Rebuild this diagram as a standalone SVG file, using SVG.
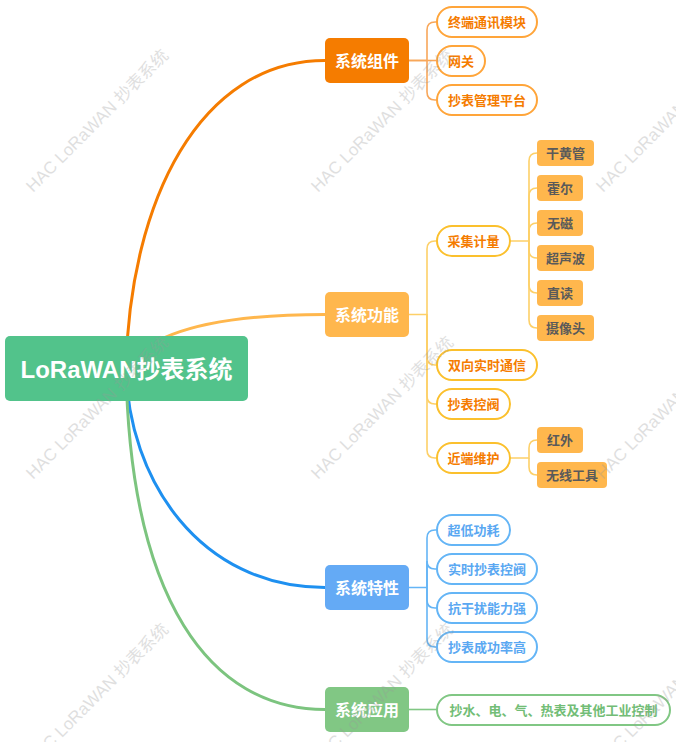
<svg xmlns="http://www.w3.org/2000/svg" width="676" height="742" viewBox="0 0 676 742">
<style>
text{font-family:"Liberation Sans","Noto Sans CJK SC",sans-serif;font-weight:bold;dominant-baseline:central;text-anchor:middle}
.main{fill:none;stroke-width:3;stroke-linecap:round}
.sub{fill:none;stroke-width:1.6}
.pill{fill:#fff;stroke-width:2}
.leaf{fill:#ffb74d}
.leaf text{fill:#5a5a5a;font-size:13px}
.brt{fill:#fff;font-size:16px}
.ct{font-size:13px}
.wm{font-family:"Liberation Sans","Noto Sans CJK SC",sans-serif;font-weight:normal;font-size:17px;fill:#999;opacity:0.3;text-anchor:start;dominant-baseline:auto}
</style>
<rect width="676" height="742" fill="#fff"/>
<g id="connectors">
  <path class="main" stroke="#f57c00" d="M126,368 C130,200 200,60.5 325,60.5"/>
  <path class="main" stroke="#ffb74d" d="M126,368 Q160,314.5 325,314.5"/>
  <path class="main" stroke="#1e90f0" d="M126,368 C128,480 200,587.5 325,587.5"/>
  <path class="main" stroke="#7cc47f" d="M126,368 C130,600 210,709.5 325,709.5"/>
  <g stroke="#f8a75a" class="sub">
    <path d="M409,60.5 H427 V30 Q427,22 435,22 H437"/>
    <path d="M409,60.5 H437"/>
    <path d="M427,60.5 V92 Q427,100 435,100 H437"/>
  </g>
  <g stroke="#fdd068" class="sub">
    <path d="M409,314.5 H427 V249 Q427,241 435,241 H437"/>
    <path d="M427,314.5 V357 Q427,365 435,365 H437"/>
    <path d="M427,314.5 V396 Q427,404 435,404 H437"/>
    <path d="M427,314.5 V450 Q427,458 435,458 H437"/>
    <path d="M510,241 H529 V161 Q529,153 537,153"/>
    <path d="M529,241 V196 Q529,188 537,188"/>
    <path d="M529,241 V231 Q529,223 537,223"/>
    <path d="M529,241 V250 Q529,258 537,258"/>
    <path d="M529,241 V285 Q529,293 537,293"/>
    <path d="M529,241 V320 Q529,328 537,328"/>
    <path d="M510,458 H529 V448 Q529,440 537,440"/>
    <path d="M529,458 V467 Q529,475 537,475"/>
  </g>
  <g stroke="#64b5f6" class="sub">
    <path d="M409,587.5 H427 V538 Q427,530 435,530 H437"/>
    <path d="M427,587.5 V561 Q427,569 435,569 H437"/>
    <path d="M427,587.5 V600 Q427,608 435,608 H437"/>
    <path d="M427,587.5 V639 Q427,647 435,647 H437"/>
  </g>
  <g stroke="#81c784" class="sub">
    <path d="M409,709.5 H437"/>
  </g>
</g>
<g id="root">
  <rect x="5" y="336" width="243" height="65" rx="5" fill="#52c38b"/>
  <text x="126.5" y="369" fill="#fff" font-size="24">LoRaWAN抄表系统</text>
</g>
<g id="b1">
  <rect x="325" y="38" width="84" height="45" rx="5" fill="#f57c00"/>
  <text class="brt" x="367" y="61">系统组件</text>
</g>
<g id="b2">
  <rect x="325" y="292" width="84" height="45" rx="5" fill="#ffb74d"/>
  <text class="brt" x="367" y="315">系统功能</text>
</g>
<g id="b3">
  <rect x="325" y="565" width="84" height="45" rx="5" fill="#64aaf5"/>
  <text class="brt" x="367" y="588">系统特性</text>
</g>
<g id="b4">
  <rect x="325" y="687" width="84" height="45" rx="5" fill="#81c784"/>
  <text class="brt" x="367" y="710">系统应用</text>
</g>
<g id="c1-1"><rect class="pill" stroke="#ffa53a" x="437" y="7" width="100" height="30" rx="15"/><text class="ct" fill="#f57c00" x="487" y="22">终端通讯模块</text></g>
<g id="c1-2"><rect class="pill" stroke="#ffa53a" x="437" y="46" width="48" height="30" rx="15"/><text class="ct" fill="#f57c00" x="461" y="61">网关</text></g>
<g id="c1-3"><rect class="pill" stroke="#ffa53a" x="437" y="85" width="100" height="30" rx="15"/><text class="ct" fill="#f57c00" x="487" y="100">抄表管理平台</text></g>
<g id="c2-1"><rect class="pill" stroke="#fbc02d" x="437" y="226" width="73" height="30" rx="15"/><text class="ct" fill="#f57c00" x="473.5" y="241">采集计量</text></g>
<g id="c2-2"><rect class="pill" stroke="#fbc02d" x="437" y="350" width="100" height="30" rx="15"/><text class="ct" fill="#f57c00" x="487" y="365">双向实时通信</text></g>
<g id="c2-3"><rect class="pill" stroke="#fbc02d" x="437" y="389" width="73" height="30" rx="15"/><text class="ct" fill="#f57c00" x="473.5" y="404">抄表控阀</text></g>
<g id="c2-4"><rect class="pill" stroke="#fbc02d" x="437" y="443" width="73" height="30" rx="15"/><text class="ct" fill="#f57c00" x="473.5" y="458">近端维护</text></g>
<g id="l1" class="leaf"><rect x="537" y="140" width="57" height="26" rx="4"/><text x="565.5" y="153">干黄管</text></g>
<g id="l2" class="leaf"><rect x="537" y="175" width="46" height="26" rx="4"/><text x="560" y="188">霍尔</text></g>
<g id="l3" class="leaf"><rect x="537" y="210" width="46" height="26" rx="4"/><text x="560" y="223">无磁</text></g>
<g id="l4" class="leaf"><rect x="537" y="245" width="57" height="26" rx="4"/><text x="565.5" y="258">超声波</text></g>
<g id="l5" class="leaf"><rect x="537" y="280" width="46" height="26" rx="4"/><text x="560" y="293">直读</text></g>
<g id="l6" class="leaf"><rect x="537" y="315" width="57" height="26" rx="4"/><text x="565.5" y="328">摄像头</text></g>
<g id="l7" class="leaf"><rect x="537" y="427" width="46" height="26" rx="4"/><text x="560" y="440">红外</text></g>
<g id="l8" class="leaf"><rect x="537" y="462" width="70" height="26" rx="4"/><text x="572" y="475">无线工具</text></g>
<g id="c3-1"><rect class="pill" stroke="#64b5f6" x="437" y="515" width="73" height="30" rx="15"/><text class="ct" fill="#5aa8f2" x="473.5" y="530">超低功耗</text></g>
<g id="c3-2"><rect class="pill" stroke="#64b5f6" x="437" y="554" width="100" height="30" rx="15"/><text class="ct" fill="#5aa8f2" x="487" y="569">实时抄表控阀</text></g>
<g id="c3-3"><rect class="pill" stroke="#64b5f6" x="437" y="593" width="100" height="30" rx="15"/><text class="ct" fill="#5aa8f2" x="487" y="608">抗干扰能力强</text></g>
<g id="c3-4"><rect class="pill" stroke="#64b5f6" x="437" y="632" width="100" height="30" rx="15"/><text class="ct" fill="#5aa8f2" x="487" y="647">抄表成功率高</text></g>
<g id="c4-1"><rect class="pill" stroke="#81c784" x="437" y="695" width="233" height="30" rx="15"/><text class="ct" fill="#72bd76" x="553.5" y="710">抄水、电、气、热表及其他工业控制</text></g>
<g id="watermarks">
  <text class="wm" transform="translate(33,193) rotate(-45)">HAC LoRaWAN 抄表系统</text>
  <text class="wm" transform="translate(318,193) rotate(-45)">HAC LoRaWAN 抄表系统</text>
  <text class="wm" transform="translate(603,193) rotate(-45)">HAC LoRaWAN 抄表系统</text>
  <text class="wm" transform="translate(33,480) rotate(-45)">HAC LoRaWAN 抄表系统</text>
  <text class="wm" transform="translate(318,480) rotate(-45)">HAC LoRaWAN 抄表系统</text>
  <text class="wm" transform="translate(603,480) rotate(-45)">HAC LoRaWAN 抄表系统</text>
  <text class="wm" transform="translate(33,767) rotate(-45)">HAC LoRaWAN 抄表系统</text>
  <text class="wm" transform="translate(318,767) rotate(-45)">HAC LoRaWAN 抄表系统</text>
  <text class="wm" transform="translate(603,767) rotate(-45)">HAC LoRaWAN 抄表系统</text>
</g>
</svg>
